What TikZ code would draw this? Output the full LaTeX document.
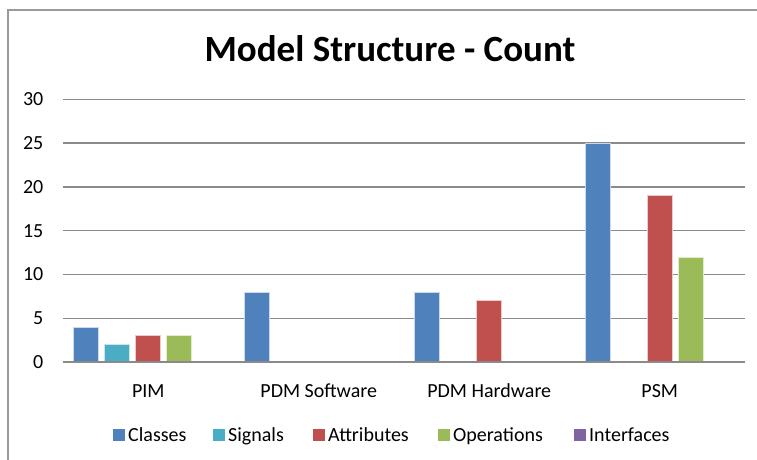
\documentclass[tikz,border=0pt]{standalone}
\usepackage{fontspec}
\setmainfont{Carlito}
\definecolor{cClasses}{HTML}{4F81BD}
\definecolor{cSignals}{HTML}{4BACC6}
\definecolor{cAttr}{HTML}{C0504D}
\definecolor{cOps}{HTML}{9BBB59}
\definecolor{cIface}{HTML}{8064A2}
\definecolor{gridgray}{HTML}{8A8A8A}
\definecolor{framegray}{HTML}{9A9A9A}
\begin{document}
\begin{tikzpicture}[x=1pt,y=-1pt,
  grid/.style={draw=gridgray,line width=1.4pt},
  bar/.style={draw=white!70!#1,line width=0.8pt,fill=#1},
  ticklab/.style={anchor=base east,font=\fontsize{20}{22}\selectfont,inner sep=0pt},
  catlab/.style={anchor=base,font=\fontsize{20}{22}\selectfont,inner sep=0pt},
  legsq/.style={fill=#1,minimum width=12pt,minimum height=12pt,inner sep=0pt},
  leglab/.style={anchor=base west,font=\fontsize{20}{22}\selectfont,inner sep=0pt},
  titlestyle/.style={anchor=base,font=\fontsize{37}{40}\selectfont\bfseries,inner sep=0pt}]
\useasboundingbox[fill=white] (0,0) rectangle (757,460);
\draw[framegray,line width=1.5pt] (8,460) -- (8,10) -- (757,10);
\node[titlestyle] (title) at (390,62) {Model Structure - Count};
% gridlines
\foreach \v/\n in {0/g0,5/g5,10/g10,15/g15,20/g20,25/g25,30/g30}{
  \coordinate (\n l) at (63,{362-\v*8.757});
  \coordinate (\n r) at (745,{362-\v*8.757});
  \draw[grid] (\n l) -- (\n r);
  \node[ticklab] (lab\n) at (43.5,{368.5-\v*8.757}) {\v};
}
% bars: category centers 148.25, 318.75, 489.25, 659.75; pitch 31
\newcommand{\mybar}[3]{% center x, value, color
  \path[bar=#3] ({#1-12.5},362) rectangle ({#1+12.5},{362-#2*8.757});}
% PIM
\mybar{86.25}{4}{cClasses}
\mybar{117.25}{2}{cSignals}
\mybar{148.25}{3}{cAttr}
\mybar{179.25}{3}{cOps}
% PDM Software
\mybar{256.75}{8}{cClasses}
% PDM Hardware
\mybar{427.25}{8}{cClasses}
\mybar{489.25}{7}{cAttr}
% PSM
\mybar{597.75}{25}{cClasses}
\mybar{659.75}{19}{cAttr}
\mybar{690.75}{12}{cOps}
\draw[grid] (g0l) -- (g0r);
% category labels
\node[catlab] (cPIM) at (148.25,397) {PIM};
\node[catlab] (cPDMS) at (318.75,397) {PDM Software};
\node[catlab] (cPDMH) at (489.25,397) {PDM Hardware};
\node[catlab] (cPSM) at (659.75,397) {PSM};
% legend
\node[legsq=cClasses] (sq1) at (119,435) {};
\node[leglab] (l1) at (128,441) {Classes};
\node[legsq=cSignals] (sq2) at (219,435) {};
\node[leglab] (l2) at (228,441) {Signals};
\node[legsq=cAttr] (sq3) at (319,435) {};
\node[leglab] (l3) at (328,441) {Attributes};
\node[legsq=cOps] (sq4) at (444,435) {};
\node[leglab] (l4) at (453,441) {Operations};
\node[legsq=cIface] (sq5) at (580,435) {};
\node[leglab] (l5) at (589,441) {Interfaces};
\end{tikzpicture}
\end{document}
